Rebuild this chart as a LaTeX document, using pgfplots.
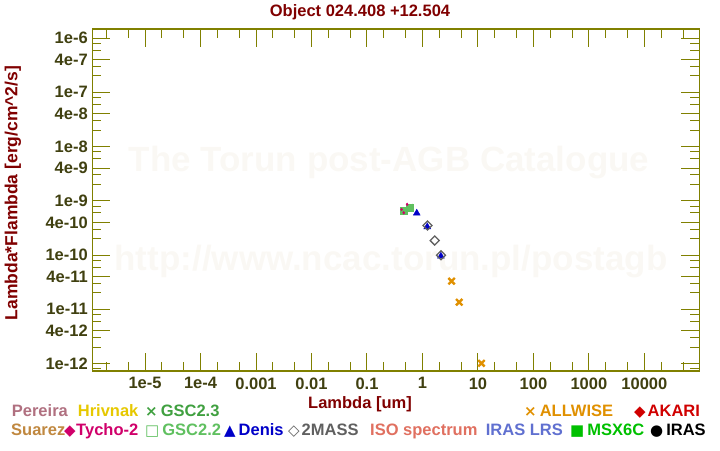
\documentclass[border=0pt]{standalone}
\usepackage{pgfplots}
\pgfplotsset{compat=1.18}
\usepackage{fontspec}
\setmainfont{Liberation Sans}
\newfontfamily\symfont{DejaVu Sans}

\definecolor{axiscol}{RGB}{128,128,0}
\definecolor{tickcol}{RGB}{64,64,16}
\definecolor{titlecol}{RGB}{128,0,0}
\definecolor{wmark}{RGB}{250,248,244}
\definecolor{cPereira}{RGB}{176,112,128}
\definecolor{cHrivnak}{RGB}{230,200,0}
\definecolor{cGSCiii}{RGB}{64,160,64}
\definecolor{cSuarez}{RGB}{192,136,64}
\definecolor{cTycho}{RGB}{208,0,106}
\definecolor{cGSCii}{RGB}{96,192,96}
\definecolor{cDenis}{RGB}{0,0,200}
\definecolor{cMASS}{RGB}{96,96,96}
\definecolor{cISO}{RGB}{224,112,96}
\definecolor{cLRS}{RGB}{96,112,208}
\definecolor{cMSX}{RGB}{0,192,0}
\definecolor{cIRAS}{RGB}{0,0,0}
\definecolor{cWISE}{RGB}{224,144,0}
\definecolor{cAKARI}{RGB}{208,0,0}

\newcommand{\lf}{\fontsize{16.5}{19}\selectfont\bfseries}
\newcommand{\sym}[1]{{\symfont\fontsize{15}{15}\selectfont\bfseries #1}}

\begin{document}
\begin{tikzpicture}
\path[use as bounding box] (0pt,0pt) rectangle (720pt,450pt);

% watermark
\node[text=wmark, font=\fontsize{35}{40}\selectfont\bfseries] at (389pt,287pt) {The Torun post-AGB Catalogue};
\node[text=wmark, font=\fontsize{35}{40}\selectfont\bfseries] at (391pt,188pt) {http://www.ncac.torun.pl/postagb};

\begin{axis}[
  at={(92.3pt,79pt)}, anchor=south west,
  width=607pt, height=342pt, scale only axis,
  xmode=log, ymode=log,
  xmin=1.12e-6, xmax=9.77e4,
  ymin=7.28e-13, ymax=1.466e-6,
  axis line style={draw=axiscol, line width=1.2pt},
  every tick/.style={draw=axiscol, line width=1pt},
  tick align=inside,
  major tick length=18pt, minor tick length=9pt,
  xtick={1e-5,1e-4,1e-3,1e-2,1e-1,1,10,100,1000,10000},
  xticklabels={1e-5,1e-4,0.001,0.01,0.1,1,10,100,1000,10000},
  minor xtick={2e-6,5e-6,2e-5,5e-5,2e-4,5e-4,2e-3,5e-3,2e-2,5e-2,0.2,0.5,2,5,20,50,200,500,2000,5000,20000,50000},
  ytick={1e-12,4e-12,1e-11,4e-11,1e-10,4e-10,1e-9,4e-9,1e-8,4e-8,1e-7,4e-7,1e-6},
  yticklabels={1e-12,4e-12,1e-11,4e-11,1e-10,4e-10,1e-9,4e-9,1e-8,4e-8,1e-7,4e-7,1e-6},
  minor ytick={8e-13,2e-12,3e-12,6e-12,8e-12,2e-11,3e-11,6e-11,8e-11,2e-10,3e-10,6e-10,8e-10,2e-9,3e-9,6e-9,8e-9,2e-8,3e-8,6e-8,8e-8,2e-7,3e-7,6e-7,8e-7},
  ticklabel style={text=tickcol, font=\lf},
  xticklabel style={yshift=-3pt},
  yticklabel style={xshift=-1pt},
  clip=false,
]
% GSC2.3
\addplot[only marks, mark=x, mark size=3, cGSCiii, line width=1.2pt] coordinates {
  (0.47,6.6e-10) (0.62,7.9e-10)
};
% GSC2.2
\addplot[only marks, mark=square*, mark size=3.5, draw=cGSCii, fill=cGSCii] coordinates {
  (0.46,6.6e-10) (0.59,7.6e-10)
};
% Tycho-2
\addplot[only marks, mark=diamond*, mark size=1.4, cTycho] coordinates {
  (0.42,6.9e-10) (0.53,8.6e-10) (0.46,6.0e-10)
};
% Denis
\addplot[only marks, mark=triangle*, mark size=4, cDenis] coordinates {
  (0.79,5.9e-10) (1.22,3.3e-10) (2.15,9.5e-11)
};
% 2MASS
\addplot[only marks, mark=square, mark size=3.2, mark options={rotate=45}, cMASS, line width=1.3pt] coordinates {
  (1.235,3.5e-10) (1.662,1.85e-10) (2.159,9.9e-11)
};
% ALLWISE
\addplot[only marks, mark=x, mark size=4.5, cWISE, line width=2.4pt] coordinates {
  (3.35,3.3e-11) (4.6,1.35e-11) (11.56,1.01e-12)
};
\end{axis}

% title and axis labels
\node[text=titlecol, font=\lf] at (360pt,438pt) {Object 024.408 +12.504};
\node[text=titlecol, font=\lf] at (360pt,46pt) {Lambda [um]};
\node[text=titlecol, font=\fontsize{17.5}{20}\selectfont\bfseries, rotate=90] at (13pt,257pt) {Lambda*Flambda [erg/cm\^{}2/s]};

% legend row 1
\node[anchor=base west, inner sep=0, text=cPereira, font=\lf] at (11.7pt,34pt) {Pereira};
\node[anchor=base west, inner sep=0, text=cHrivnak, font=\lf] at (77.7pt,34pt) {Hrivnak};
\node[anchor=base west, inner sep=0, text=cGSCiii, font=\lf] at (145pt,34pt) {\sym{×}\kern3pt GSC2.3};
\node[anchor=base west, inner sep=0, text=cWISE, font=\lf] at (524pt,34pt) {\sym{×}\kern3pt ALLWISE};
\node[anchor=base west, inner sep=0, text=cAKARI, font=\lf] at (634pt,34pt) {\sym{◆}\kern2pt AKARI};
% legend row 2
\node[anchor=base west, inner sep=0, text=cSuarez, font=\lf] at (11pt,15pt) {Suarez};
\node[anchor=base west, inner sep=0, text=cTycho, font=\lf] at (64pt,15pt) {\sym{◆}\kern0.5pt Tycho-2};
\node[anchor=base west, inner sep=0, text=cGSCii, font=\lf] at (145pt,15pt) {\sym{□}\kern3pt GSC2.2};
\node[anchor=base west, inner sep=0, text=cDenis, font=\lf] at (224pt,15pt) {\sym{▲}\kern3pt Denis};
\node[anchor=base west, inner sep=0, text=cMASS, font=\lf] at (288pt,15pt) {\sym{◇}\kern2pt 2MASS};
\node[anchor=base west, inner sep=0, text=cISO, font=\lf] at (370pt,15pt) {ISO spectrum};
\node[anchor=base west, inner sep=0, text=cLRS, font=\lf] at (485.7pt,15pt) {IRAS LRS};
\node[anchor=base west, inner sep=0, text=cMSX, font=\lf] at (570pt,15pt) {\sym{■}\kern3pt MSX6C};
\node[anchor=base west, inner sep=0, text=cIRAS, font=\lf] at (650pt,15pt) {\sym{●}\kern3pt IRAS};
\end{tikzpicture}
\end{document}
